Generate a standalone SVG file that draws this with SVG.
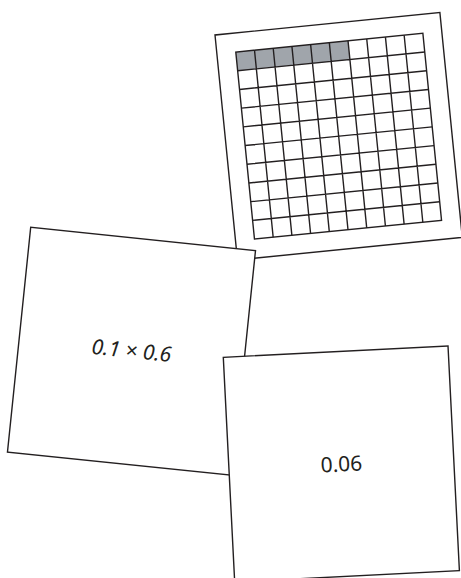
<svg xmlns="http://www.w3.org/2000/svg" width="461" height="578" viewBox="0 0 461 578">
<style>
.card{fill:#fff;stroke:#231f20;stroke-width:1.4}
.grid{fill:none;stroke:#231f20;stroke-width:1.4}
.shade{fill:#a0a5ab}
.lbl{font-family:"Noto Sans","Open Sans",sans-serif;font-size:21px;fill:#231f20;text-anchor:middle}
</style>
<rect width="461" height="578" fill="#fff"/>
<g id="grid-card" transform="translate(215,35) rotate(-5.7)">
<rect class="card" x="0" y="0" width="226" height="226"/>
<rect class="shade" x="19" y="19" width="112.8" height="18.8"/>
<g class="grid">
<rect x="19" y="19" width="188" height="188"/>
<path d="M37.8 19V207M56.6 19V207M75.4 19V207M94.2 19V207M113 19V207M131.8 19V207M150.6 19V207M169.4 19V207M188.2 19V207M19 37.8H207M19 56.6H207M19 75.4H207M19 94.2H207M19 113H207M19 131.8H207M19 150.6H207M19 169.4H207M19 188.2H207"/>
</g>
</g>
<g id="expr-card" transform="translate(30.7,227.3) rotate(5.9)">
<rect class="card" x="0" y="0" width="226" height="226"/>
<text class="lbl" x="113" y="119.5" font-style="italic">0.1 × 0.6</text>
</g>
<g id="result-card" transform="translate(223.3,357.3) rotate(-2.9)">
<rect class="card" x="0" y="0" width="225" height="225"/>
<text class="lbl" x="112.5" y="120">0.06</text>
</g>
<g id="connectors"/>
</svg>
